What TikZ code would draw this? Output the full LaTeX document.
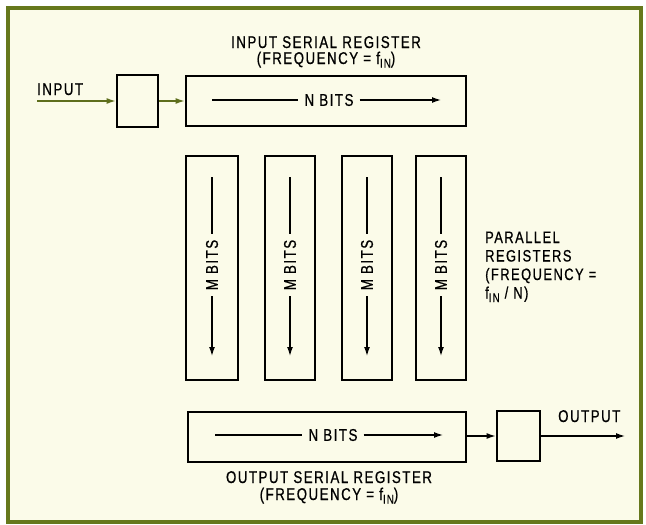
\documentclass[tikz,border=0pt]{standalone}
\usepackage{fontspec}
\setmainfont{Liberation Sans}[FakeStretch=0.78,LetterSpace=9,FakeBold=0.7]
\usetikzlibrary{arrows.meta}
\definecolor{frameg}{HTML}{66781C}
\definecolor{bgc}{HTML}{FBFBE9}
\definecolor{arrg}{HTML}{5E6E1C}
\newcommand{\fin}{f\raisebox{-3.5pt}{\fontsize{12.5}{12}\selectfont IN}}
\begin{document}
\begin{tikzpicture}[x=1pt,y=-1pt,
  reg/.style={draw=black,line width=2.8pt,inner sep=0pt},
  lbl/.style={font=\fontsize{17}{19}\selectfont,inner sep=0pt},
  plbl/.style={font=\fontsize{16.5}{18}\selectfont,inner sep=0pt,anchor=base west},
  bits/.style={font=\fontsize{17}{19}\selectfont,inner sep=0pt,inner xsep=6pt},
  arr/.style={-{Latex[length=9pt,width=6pt]},line width=1.3pt},
  thin/.style={line width=1.3pt},
]
\useasboundingbox (0,0) rectangle (646,525);
\fill[white] (0,0) rectangle (646,525);
\draw[frameg,line width=3.8pt,fill=bgc] (8,8) rectangle (641,522);

% input side
\node[reg,minimum width=41pt,minimum height=52pt] (inbox) at (137.5,101) {};
\node[reg,minimum width=280pt,minimum height=50pt] (inreg) at (326,101) {};
\coordinate (instart) at (37,101);
\node[lbl,anchor=base west] (inlbl) at (37,95) {INPUT};
\draw[arr,arrg] (instart) -- (inbox.west);
\draw[arr,arrg] (inbox.east) -- (inreg.west);
\node[lbl,anchor=base] (t1a) at (326,48) {INPUT SERIAL REGISTER};
\node[lbl,anchor=base] (t1b) at (326,64) {(FREQUENCY = \fin)};
\node[bits] (nb1) at (329,100) {N BITS};
\coordinate (nb1s) at (212,100);
\coordinate (nb1e) at (441,100);
\draw[thin] (nb1s) -- (nb1);
\draw[arr] (nb1) -- (nb1e);

% parallel registers
\foreach \i/\x/\w in {1/212/52,2/290/50,3/367/50,4/441/50}{
  \node[reg,minimum width=\w pt,minimum height=224pt] (pr\i) at (\x,268) {};
  \node[bits,rotate=90] (mb\i) at (\x,265) {M BITS};
  \coordinate (mt\i) at (\x,177);
  \coordinate (me\i) at (\x,356);
  \draw[thin] (mt\i) -- (mb\i);
  \draw[arr] (mb\i) -- (me\i);
}
\node[plbl] (p1) at (485,243) {PARALLEL};
\node[plbl] (p2) at (485,261.5) {REGISTERS};
\node[plbl] (p3) at (485,280) {(FREQUENCY =};
\node[plbl] (p4) at (485,298.5) {\fin\ / N)};

% output side
\node[reg,minimum width=278pt,minimum height=50pt] (outreg) at (327,437) {};
\node[reg,minimum width=43pt,minimum height=50pt] (outbox) at (518.5,436) {};
\node[bits] (nb2) at (333,435) {N BITS};
\coordinate (nb2s) at (215,435);
\coordinate (nb2e) at (443,435);
\draw[thin] (nb2s) -- (nb2);
\draw[arr] (nb2) -- (nb2e);
\draw[arr] (outreg.east |- outbox.west) -- (outbox.west);
\coordinate (outend) at (625,436);
\draw[arr] (outbox.east) -- (outend);
\node[lbl,anchor=base west] (outlbl) at (558,422) {OUTPUT};
\node[lbl,anchor=base] (t2a) at (329,483) {OUTPUT SERIAL REGISTER};
\node[lbl,anchor=base] (t2b) at (329,500) {(FREQUENCY = \fin)};
\end{tikzpicture}
\end{document}
